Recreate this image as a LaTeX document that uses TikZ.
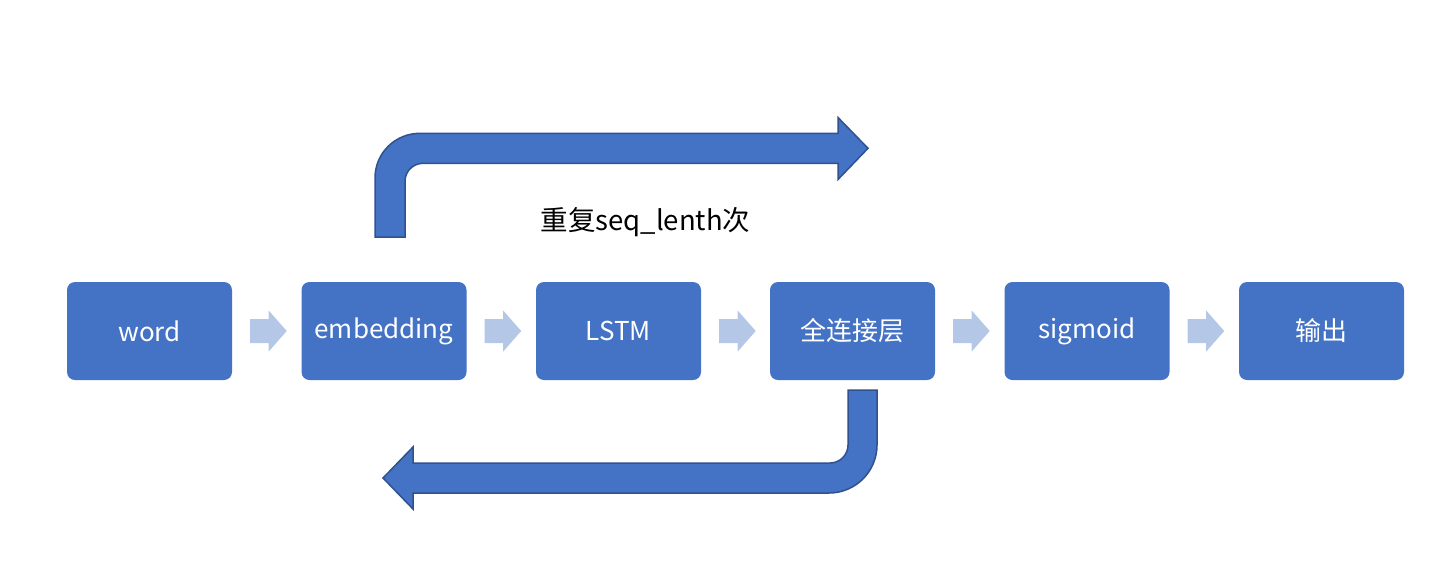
\documentclass[tikz,border=0pt]{standalone}
\usepackage{fontspec}
\setmainfont{Noto Sans CJK SC}
\usetikzlibrary{calc}
\definecolor{boxblue}{HTML}{4472C4}
\definecolor{edgeblue}{HTML}{2F528F}
\definecolor{lightblue}{HTML}{B4C7E7}
\tikzset{
  stepbox/.style={rectangle, fill=boxblue, text=white, rounded corners=8pt,
    minimum width=165pt, minimum height=98pt, inner sep=0pt,
    font=\fontsize{26}{30}\selectfont},
  smallarrow/.style={fill=lightblue, draw=none},
  bigarrow/.style={fill=boxblue, draw=edgeblue, line width=1.5pt, line join=miter},
}
\begin{document}
\begin{tikzpicture}[x=1pt,y=-1pt]
\useasboundingbox (0,0) rectangle (1456,571);
\node[stepbox] (word) at (149.5,331) {word};
\node[stepbox] (emb) at (384,331) {embedding};
\node[stepbox] (lstm) at (618.5,331) {LSTM};
\node[stepbox] (fc) at (852.5,331) {全连接层};
\node[stepbox] (sig) at (1087,331) {sigmoid};
\node[stepbox] (out) at (1321.5,331) {输出};
% small block arrows
\foreach \a/\b in {word/emb, emb/lstm, lstm/fc, fc/sig, sig/out}{
  \coordinate (s) at ($(\a.east)+(18,0)$);
  \fill[smallarrow] (s) ++(0,-12) -- ++(18.5,0) -- ++(0,-8.5) -- ++(18,20.5)
     -- ++(-18,20.5) -- ++(0,-8.5) -- ++(-18.5,0) -- cycle;
}
% top bent arrow
\draw[bigarrow] (375,237) -- (375,178) .. controls (375,153.1) and (395.1,133.3) .. (420,133.3)
  -- (838,133.3) -- (838,117.5) -- (868,148.3) -- (838,179.5) -- (838,163.3)
  -- (423,163.3) .. controls (413.1,163.3) and (405,171.4) .. (405,181.3) -- (405,237) -- cycle;
% bottom bent arrow
\draw[bigarrow] (848,390) -- (877,390) -- (877,445) .. controls (877,471.5) and (855.5,493) .. (829,493)
  -- (413,493) -- (413,509) -- (383,478) -- (413,447) -- (413,463)
  -- (830,463) .. controls (839.9,463) and (848,454.9) .. (848,445) -- cycle;
\node[font=\fontsize{27.5}{32}\selectfont, text=black] (lbl) at (645.5,222) {重复seq\_lenth次};
\end{tikzpicture}
\end{document}
